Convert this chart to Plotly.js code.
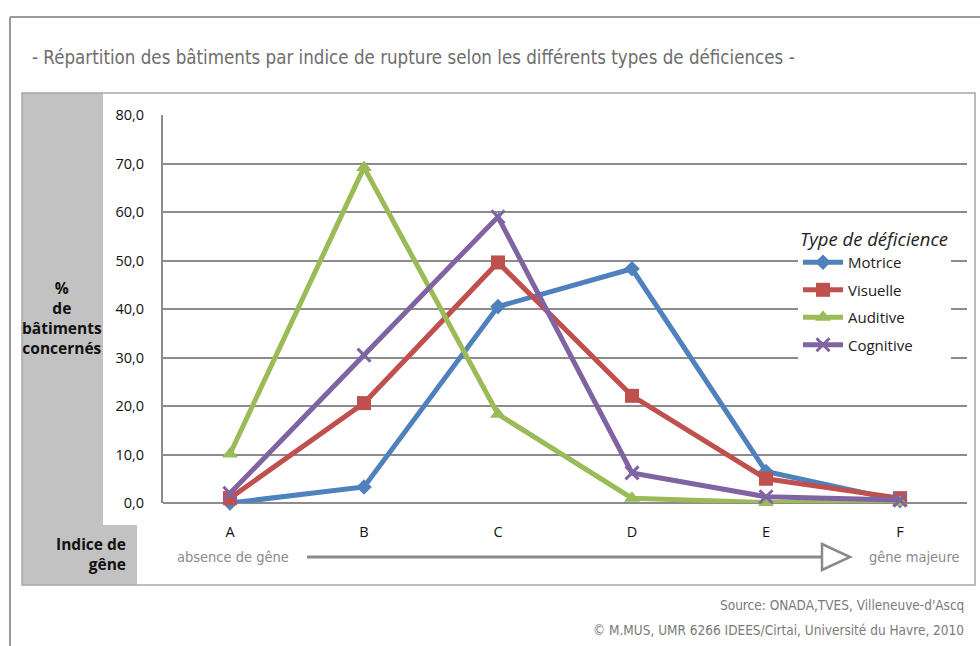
<!DOCTYPE html>
<html><head><meta charset="utf-8">
<script src="https://cdn.plot.ly/plotly-3.0.1.min.js"></script>
<style>html,body{margin:0;padding:0;background:#fff}#chart{width:980px;height:646px}</style>
</head><body><div id="chart"></div>
<script>
const categories = ['A','B','C','D','E','F'];
const seriesNames = ['Motrice','Visuelle','Auditive','Cognitive'];
const motrice   = [0.0, 3.3, 40.5, 48.3, 6.5, 0.5];
const visuelle  = [1.0, 20.6, 49.6, 22.1, 5.0, 1.0];
const auditive  = [10.1, 69.2, 18.3, 1.0, 0.1, 0.1];
const cognitive = [2.0, 30.5, 59.0, 6.2, 1.3, 0.6];
const yTicks = [0,10,20,30,40,50,60,70,80];

const colors = ['#4F81BD','#C0504D','#9BBB59','#8064A2'];
const symbols = ['diamond','square','triangle-up','x-thin-open'];
const sizes = [12,14,14,13];
const values = [motrice, visuelle, auditive, cognitive];

// pixel -> paper helpers (plot area x 163..967, y 115..503)
const L=163,R=967,T=115,B=503;
const px = x => (x-L)/(R-L);
const py = y => (B-y)/(B-T);

const traces = values.map((v,i)=>({
  type:'scatter', mode:'lines+markers', name:seriesNames[i],
  x:categories, y:v, legendgroup:'g'+i,
  line:{color:colors[i], width:5},
  marker:{color:colors[i], symbol:symbols[i], size:sizes[i],
          line:{color:colors[i], width: i===3?3:0}},
  cliponaxis:false
}));

const cond = "'Liberation Sans Narrow','DejaVu Sans Condensed','Roboto Condensed','Open Sans',sans-serif";
const sans = "'Open Sans','Noto Sans',sans-serif";

const shapes = [
  {type:'path', xref:'paper', yref:'paper', layer:'below',
   path:`M ${px(22)} ${py(93)} L ${px(103)} ${py(93)} L ${px(103)} ${py(525)} L ${px(137)} ${py(525)} L ${px(137)} ${py(585)} L ${px(22)} ${py(585)} Z`,
   fillcolor:'#c2c2c2', line:{width:0}},
  {type:'rect', xref:'paper', yref:'paper', layer:'below',
   x0:px(22), x1:px(975), y0:py(93), y1:py(585), line:{color:'#a6a6a6', width:1.5}},
  {type:'line', xref:'paper', yref:'paper', x0:px(10), x1:px(985), y0:py(17), y1:py(17), line:{color:'#9a9a9a', width:2}},
  {type:'line', xref:'paper', yref:'paper', x0:px(10), x1:px(10), y0:py(17), y1:py(650), line:{color:'#9a9a9a', width:2}},
  {type:'line', xref:'paper', yref:'paper', x0:px(307), x1:px(826), y0:py(557), y1:py(557), line:{color:'#8a8a8a', width:3}},
  {type:'path', xref:'paper', yref:'paper',
   path:`M ${px(822)} ${py(544)} L ${px(850)} ${py(557)} L ${px(822)} ${py(570)} Z`,
   fillcolor:'#ffffff', line:{color:'#8a8a8a', width:2.5}}
];

const annotations = [
  {text:'- Répartition des bâtiments par indice de rupture selon les différents types de déficiences -',
   xref:'paper', yref:'paper', x:px(30), y:py(57), xanchor:'left', yanchor:'middle', showarrow:false,
   font:{family:cond, size:18.6, color:'#6e6e6e'}},
  {text:'<b>%<br>de<br>bâtiments<br>concernés</b>', xref:'paper', yref:'paper', x:px(62), y:py(318),
   xanchor:'center', yanchor:'middle', showarrow:false, align:'center',
   font:{family:sans, size:15.5, color:'#111'}},
  {text:'<b>Indice de<br>gêne</b>', xref:'paper', yref:'paper', x:px(128), y:py(554),
   xanchor:'right', yanchor:'middle', showarrow:false, align:'right',
   font:{family:sans, size:15.5, color:'#111'}},
  {text:'absence de gêne', xref:'paper', yref:'paper', x:px(175), y:py(557), xanchor:'left', yanchor:'middle',
   showarrow:false, font:{family:cond, size:14.5, color:'#8a8a8a'}},
  {text:'gêne majeure', xref:'paper', yref:'paper', x:px(961), y:py(557), xanchor:'right', yanchor:'middle',
   showarrow:false, font:{family:cond, size:14.5, color:'#8a8a8a'}},
  {text:'Source: ONADA,TVES, Villeneuve-d\'Ascq', xref:'paper', yref:'paper', x:px(966), y:py(605), xanchor:'right', yanchor:'middle',
   showarrow:false, font:{family:cond, size:13.5, color:'#7a7a7a'}},
  {text:'© M.MUS, UMR 6266 IDEES/Cirtai, Université du Havre, 2010', xref:'paper', yref:'paper', x:px(966), y:py(630), xanchor:'right', yanchor:'middle',
   showarrow:false, font:{family:cond, size:13.5, color:'#7a7a7a'}}
];

const layout = {
  width:980, height:646,
  margin:{l:L, r:980-R, t:T, b:646-B, pad:0},
  paper_bgcolor:'#fff', plot_bgcolor:'#fff',
  separators:',.',
  showlegend:true,
  legend:{x:px(798), y:py(222), xanchor:'left', yanchor:'top',
    bgcolor:'#ffffff', borderwidth:0,
    title:{text:'<i>Type de déficience</i>', side:'top', font:{family:sans, size:18.5, color:'#222'}},
    font:{family:sans, size:15, color:'#222'},
    traceorder:'grouped', tracegroupgap:5, itemwidth:40},
  xaxis:{type:'category', categoryorder:'array', categoryarray:categories,
    range:[-0.5,5.5], showgrid:false, zeroline:false, showline:false,
    ticks:'', ticklabelstandoff:18, tickfont:{family:sans, size:14.5, color:'#111'}, fixedrange:true},
  yaxis:{range:[0,80], tickvals:yTicks, tickformat:'.1f', showgrid:true, gridcolor:'#8c8c8c', gridwidth:2,
    zeroline:true, zerolinecolor:'#8c8c8c', zerolinewidth:2,
    showline:true, linecolor:'#8c8c8c', linewidth:2,
    ticks:'', ticklabelstandoff:14, tickfont:{family:sans, size:14.5, color:'#111'}, fixedrange:true},
  shapes:shapes, annotations:annotations
};

Plotly.newPlot('chart', traces, layout, {displayModeBar:false, staticPlot:true});
</script></body></html>
